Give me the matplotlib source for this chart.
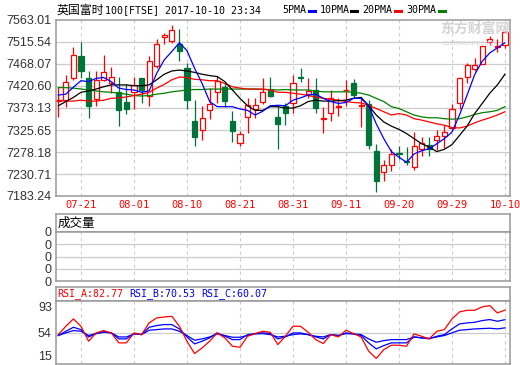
import matplotlib
matplotlib.use("Agg")
import matplotlib.pyplot as plt
from matplotlib.patches import Rectangle
from matplotlib.lines import Line2D

# daily candles 2017-07-18 .. 2017-10-10 (60 trading days)
opens = [7388, 7390, 7437, 7485, 7437, 7393, 7434, 7426, 7407, 7385,
         7408, 7437, 7400, 7463, 7526, 7518, 7511, 7459, 7345, 7326,
         7368, 7408, 7418, 7345, 7298, 7354, 7372, 7387, 7412, 7354,
         7378, 7383, 7440, 7403, 7413, 7351, 7362, 7376, 7411, 7426,
         7377, 7381, 7280, 7234, 7251, 7276, 7259, 7246, 7285, 7294,
         7305, 7313, 7330, 7383, 7440, 7458, 7468, 7516, 7504, 7509]
highs = [7419, 7445, 7504, 7516, 7453, 7453, 7488, 7461, 7441, 7424,
         7439, 7437, 7485, 7521, 7535, 7552, 7543, 7470, 7390, 7378,
         7417, 7443, 7429, 7366, 7323, 7394, 7395, 7437, 7441, 7378,
         7383, 7445, 7459, 7437, 7437, 7376, 7412, 7395, 7434, 7436,
         7395, 7390, 7296, 7260, 7285, 7291, 7289, 7321, 7310, 7310,
         7325, 7336, 7381, 7441, 7470, 7480, 7507, 7528, 7521, 7539]
lows = [7354, 7376, 7434, 7437, 7352, 7378, 7432, 7405, 7334, 7361,
        7371, 7383, 7378, 7459, 7511, 7513, 7474, 7371, 7292, 7305,
        7350, 7383, 7376, 7299, 7291, 7320, 7352, 7381, 7397, 7284,
        7337, 7363, 7429, 7394, 7363, 7320, 7344, 7355, 7378, 7395,
        7332, 7284, 7192, 7216, 7238, 7262, 7250, 7239, 7269, 7270,
        7283, 7286, 7325, 7372, 7426, 7453, 7467, 7510, 7495, 7503]
closes = [7390, 7430, 7487, 7453, 7377, 7433, 7450, 7441, 7368, 7372,
          7423, 7412, 7474, 7511, 7530, 7542, 7497, 7390, 7310, 7352,
          7382, 7432, 7388, 7323, 7316, 7379, 7379, 7407, 7400, 7338,
          7363, 7428, 7438, 7410, 7373, 7352, 7395, 7378, 7413, 7401,
          7379, 7294, 7216, 7251, 7274, 7275, 7257, 7291, 7298, 7285,
          7313, 7321, 7371, 7437, 7466, 7465, 7506, 7522, 7506, 7537]

ma5 = [7401, 7403, 7418, 7432, 7430, 7437, 7439, 7430, 7416, 7413,
       7412, 7407, 7410, 7448, 7477, 7495, 7514, 7497, 7459, 7426,
       7387, 7376, 7376, 7376, 7371, 7368, 7358, 7366, 7378, 7379,
       7378, 7390, 7395, 7401, 7403, 7394, 7387, 7383, 7385, 7394,
       7394, 7378, 7339, 7307, 7279, 7267, 7256, 7274, 7281, 7285,
       7296, 7307, 7321, 7358, 7401, 7445, 7474, 7492, 7503, 7514]
ma10 = [7378, 7387, 7396, 7407, 7410, 7414, 7419, 7423, 7423, 7423,
        7421, 7421, 7423, 7434, 7446, 7453, 7455, 7453, 7450, 7446,
        7443, 7441, 7430, 7412, 7394, 7378, 7368, 7368, 7376, 7376,
        7373, 7373, 7378, 7387, 7390, 7388, 7388, 7389, 7390, 7394,
        7396, 7378, 7358, 7343, 7334, 7327, 7318, 7307, 7296, 7289,
        7279, 7284, 7294, 7314, 7334, 7361, 7383, 7405, 7423, 7446]
ma20 = [7390, 7388, 7388, 7390, 7388, 7388, 7390, 7394, 7395, 7397,
        7400, 7403, 7407, 7416, 7424, 7434, 7440, 7439, 7435, 7434,
        7432, 7432, 7426, 7419, 7416, 7414, 7414, 7414, 7412, 7407,
        7407, 7405, 7403, 7400, 7397, 7394, 7392, 7390, 7387, 7385,
        7384, 7379, 7372, 7365, 7358, 7361, 7358, 7350, 7347, 7343,
        7339, 7336, 7331, 7330, 7334, 7341, 7347, 7352, 7358, 7365]
ma30 = [7417, 7417, 7416, 7414, 7412, 7410, 7408, 7407, 7405, 7403,
        7400, 7399, 7400, 7403, 7405, 7408, 7410, 7412, 7413, 7413,
        7414, 7414, 7414, 7414, 7414, 7414, 7414, 7413, 7413, 7412,
        7413, 7412, 7412, 7412, 7410, 7408, 7408, 7408, 7408, 7407,
        7405, 7401, 7394, 7387, 7376, 7372, 7365, 7358, 7354, 7352,
        7352, 7350, 7349, 7350, 7354, 7359, 7363, 7365, 7368, 7376]

rsi_a = [51.4, 62.1, 71.5, 62.1, 42.9, 53.6, 56.6, 53.6, 40.8, 40.8,
         53.6, 51.4, 66.4, 72.8, 74.0, 74.9, 62.1, 42.9, 27.1, 34.3,
         42.9, 53.6, 47.2, 36.5, 35.2, 49.3, 52.7, 55.7, 54.4, 38.6,
         49.3, 62.1, 62.1, 54.4, 45.0, 40.0, 51.4, 48.4, 57.0, 52.7,
         48.4, 30.2, 20.8, 32.2, 37.8, 37.8, 36.5, 52.3, 49.3, 45.9,
         55.7, 57.8, 71.5, 80.5, 82.6, 82.6, 86.9, 88.6, 79.2, 82.77]
rsi_b = [50.2, 55.7, 60.8, 57.8, 48.4, 52.7, 54.9, 53.6, 45.9, 45.9,
         52.7, 51.4, 60.8, 63.0, 64.3, 64.3, 58.7, 48.4, 39.5, 42.9,
         47.2, 53.6, 49.3, 45.0, 45.0, 51.4, 52.7, 53.6, 52.7, 45.9,
         48.4, 53.6, 53.6, 51.4, 48.4, 45.9, 51.4, 50.2, 53.6, 52.3,
         50.2, 40.8, 33.1, 37.3, 40.8, 40.8, 40.8, 48.4, 47.2, 45.9,
         49.3, 51.4, 58.7, 65.1, 66.4, 67.2, 69.4, 70.7, 68.5, 70.53]
rsi_c = [50.2, 53.6, 56.6, 55.7, 50.2, 52.7, 54.4, 53.6, 48.4, 48.4,
         52.3, 51.4, 57.0, 57.8, 58.7, 58.7, 55.7, 50.2, 44.2, 45.9,
         48.4, 52.3, 50.2, 48.0, 48.0, 50.2, 52.3, 52.7, 51.4, 48.4,
         49.3, 51.4, 52.3, 51.4, 49.3, 48.4, 51.4, 50.2, 52.7, 52.3,
         51.4, 45.9, 41.6, 43.7, 45.0, 45.0, 45.0, 48.4, 47.2, 46.7,
         48.4, 50.2, 53.6, 57.0, 57.8, 58.7, 59.1, 59.6, 58.7, 60.07]

price_ticks = [7183.24, 7230.71, 7278.18, 7325.65, 7373.13,
               7420.60, 7468.07, 7515.54, 7563.01]
date_pos = [3, 10, 17, 24, 31, 38, 45, 52, 59]
date_labels = ["07-21", "08-01", "08-10", "08-21", "08-31",
               "09-11", "09-20", "09-29", "10-10"]
rsi_ticks = [15, 54, 93]

UP = "#ff0000"
DOWN = "#00733a"
FRAME = "#999999"
GRID = "#cccccc"
MONO = "DejaVu Sans Mono"
CJK = ["Noto Sans CJK SC", "DejaVu Sans"]
W, H = 520, 365


def box(left, top, bottom, right=510):
    return [left / W, 1 - bottom / H, (right - left) / W, (bottom - top) / H]


def frame(ax):
    for s in ax.spines.values():
        s.set_color(FRAME)
        s.set_linewidth(1.1)
    ax.set_xlim(-0.3, 59.67)


def vgrid(ax):
    for p in date_pos:
        ax.axvline(p, color=GRID, lw=0.8, ls=(0, (3, 3)), zorder=0)


fig = plt.figure(figsize=(5.2, 3.65), dpi=100)

# ---- price panel
ax = fig.add_axes(box(56, 20, 196))
frame(ax)
ax.set_ylim(price_ticks[0], price_ticks[-1])
ax.set_yticks(price_ticks)
ax.set_yticklabels(["%.2f" % t for t in price_ticks],
                   family="Liberation Sans", fontsize=9, color="#333333")
for t in price_ticks[1:-1]:
    ax.axhline(t, color=GRID, lw=0.9, zorder=0)
vgrid(ax)
ax.set_xticks(date_pos)
ax.set_xticklabels(date_labels, family=MONO, fontsize=7.5, color=UP)
ax.tick_params(length=0, pad=3)

bw = 0.68
for i in range(len(opens)):
    o, h, l, c = opens[i], highs[i], lows[i], closes[i]
    up = c >= o
    col = UP if up else DOWN
    ax.vlines(i, l, h, color=col, lw=0.9, zorder=2)
    lo, hi = min(o, c), max(o, c)
    if hi - lo < 1.2:
        lo, hi = lo - 0.6, hi + 0.6
    ax.add_patch(Rectangle((i - bw / 2, lo), bw, hi - lo,
                           facecolor="white" if up else DOWN,
                           edgecolor=col, lw=0.9, zorder=2))

xs = list(range(len(opens)))
ax.plot(xs, ma30, color="#008000", lw=0.9, zorder=3)
ax.plot(xs, ma20, color="#ff0000", lw=0.9, zorder=3)
ax.plot(xs, ma10, color="black", lw=0.9, zorder=3)
ax.plot(xs, ma5, color="#0000ff", lw=0.9, zorder=3)

# watermark
fig.text(440 / W, 1 - 29 / H, "东方财富网", family=CJK, fontsize=10,
         fontweight="bold", color="#d4d4d4", va="center")
fig.text(442 / W, 1 - 43 / H, "eastmoney.com", family="DejaVu Sans",
         fontsize=5, color="#d4d4d4", va="center")

# header line
fig.text(57 / W, 1 - 10 / H, "英国富时", family=CJK, fontsize=8.6,
         color="black", va="center")
fig.text(105 / W, 1 - 10 / H, "100[FTSE] 2017-10-10 23:34", family=MONO,
         fontsize=7.2, color="black", va="center")
legend = [("5PMA", 282, 309, "#0000ff"), ("10PMA", 320, 351, "black"),
          ("20PMA", 362, 395, "#ff0000"), ("30PMA", 406, 439, "#008000")]
for name, tx, lx, col in legend:
    fig.text(tx / W, 1 - 10 / H, name, family=MONO, fontsize=7.2,
             color="black", va="center")
    fig.add_artist(Line2D([lx / W, (lx + 6) / W], [1 - 11 / H, 1 - 11 / H],
                          color=col, lw=2.2))

# ---- volume panel (no data)
axh = fig.add_axes(box(56, 214, 232))
frame(axh)
axh.set_xticks([])
axh.set_yticks([])
axh.text(0.003, 0.5, "成交量", transform=axh.transAxes, family=CJK,
         fontsize=9, va="center", ha="left")

axv = fig.add_axes(box(56, 232, 281))
frame(axv)
axv.set_ylim(0, 4)
axv.set_yticks([0, 1, 2, 3, 4])
axv.set_yticklabels(["0"] * 5, family="Liberation Sans", fontsize=9,
                    color="#333333")
for t in [1, 2, 3]:
    axv.axhline(t, color=GRID, lw=0.9, zorder=0)
vgrid(axv)
axv.set_xticks([])
axv.tick_params(length=0, pad=3)

# ---- RSI panel
axr = fig.add_axes(box(56, 287, 301))
frame(axr)
axr.set_xticks([])
axr.set_yticks([])
fig.text(57 / W, 1 - 294 / H, "RSI_A:82.77", family=MONO, fontsize=7.2,
         color="#ff0000", va="center")
fig.text(129 / W, 1 - 294 / H, "RSI_B:70.53", family=MONO, fontsize=7.2,
         color="#0000ff", va="center")
fig.text(201 / W, 1 - 294 / H, "RSI_C:60.07", family=MONO, fontsize=7.2,
         color="#0000ff", va="center")

axs = fig.add_axes(box(56, 301, 364))
frame(axs)
axs.set_ylim(13.7, 94.5)
axs.set_yticks(rsi_ticks)
axs.set_yticklabels([str(t) for t in rsi_ticks], family="Liberation Sans",
                    fontsize=9, color="#333333")
labs = axs.get_yticklabels()
labs[0].set_va("bottom")
labs[2].set_va("top")
axs.axhline(54, color=GRID, lw=0.9, zorder=0)
vgrid(axs)
axs.set_xticks([])
axs.tick_params(length=0, pad=3)
axs.plot(xs, rsi_c, color="#0000ff", lw=0.9)
axs.plot(xs, rsi_b, color="#0000ff", lw=0.9)
axs.plot(xs, rsi_a, color="#ff0000", lw=0.9)

fig.savefig("out.png", dpi=100)
